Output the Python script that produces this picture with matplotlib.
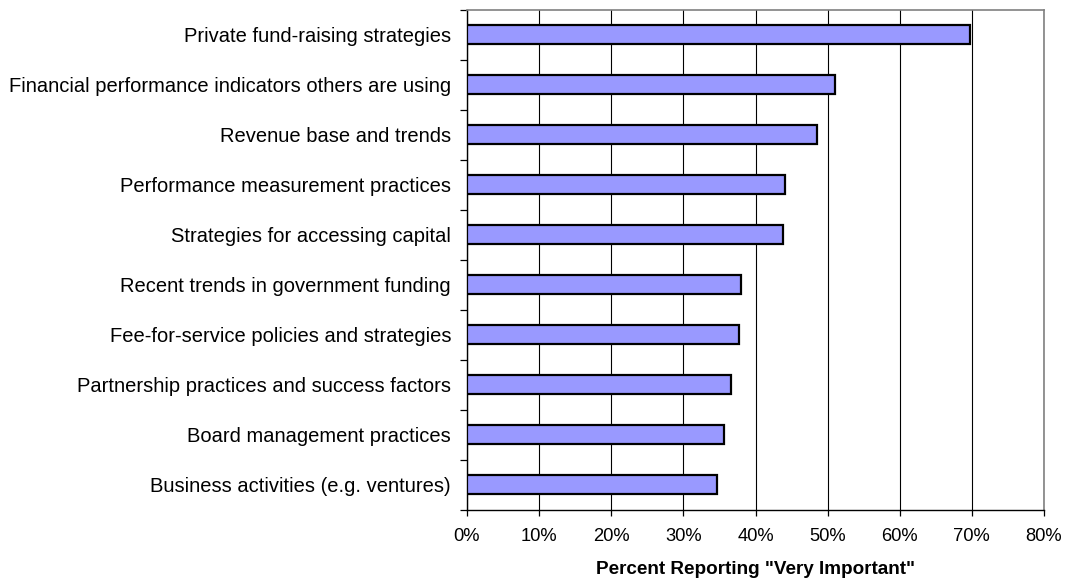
import matplotlib
matplotlib.use("Agg")
import matplotlib.pyplot as plt
import numpy as np
from matplotlib.ticker import FixedLocator, FuncFormatter

categories = [
    "Private fund-raising strategies",
    "Financial performance indicators others are using",
    "Revenue base and trends",
    "Performance measurement practices",
    "Strategies for accessing capital",
    "Recent trends in government funding",
    "Fee-for-service policies and strategies",
    "Partnership practices and success factors",
    "Board management practices",
    "Business activities (e.g. ventures)",
]
values = [69.8, 51.0, 48.5, 44.1, 43.8, 38.0, 37.7, 36.6, 35.7, 34.7]
x_ticks = [0, 10, 20, 30, 40, 50, 60, 70, 80]
x_label = 'Percent Reporting "Very Important"'

plt.rcParams['font.family'] = ['Liberation Sans', 'DejaVu Sans']

W, H = 1068, 584
left, right, top, bottom = 467, 1044, 10, 509.5
fig = plt.figure(figsize=(W / 100, H / 100), dpi=100)
ax = fig.add_axes([left / W, (H - bottom) / H, (right - left) / W, (bottom - top) / H])

n = len(categories)
ypos = np.arange(n)[::-1]
ax.barh(ypos, values, height=0.38, color='#9999FF', edgecolor='black', linewidth=1.6, zorder=3)

ax.set_xlim(0, 80)
ax.set_ylim(-0.5, n - 0.5)

ax.xaxis.set_major_locator(FixedLocator(x_ticks))
ax.xaxis.set_major_formatter(FuncFormatter(lambda v, p: f"{int(v)}%"))
ax.grid(axis='x', color='black', linewidth=0.8, zorder=1)

ax.yaxis.set_major_locator(FixedLocator(np.arange(-0.5, n, 1.0)))
ax.yaxis.set_major_formatter(FuncFormatter(lambda v, p: ""))
ax.set_yticks(ypos, minor=True)
ax.set_yticklabels(categories, minor=True)
ax.tick_params(axis='y', which='minor', length=0, pad=11.5, labelsize=14.5)
ax.tick_params(axis='y', which='major', length=5, width=0.9, direction='out')
ax.tick_params(axis='x', length=4, width=0.9, direction='out', labelsize=13.2, pad=9)

for s in ['top', 'right']:
    ax.spines[s].set_color('#808080')
    ax.spines[s].set_linewidth(1.2)
for s in ['left', 'bottom']:
    ax.spines[s].set_color('black')
    ax.spines[s].set_linewidth(1.0)

ax.set_xlabel(x_label, fontsize=13.6, fontweight='bold', labelpad=11.5)

fig.savefig("out.png", dpi=100)
